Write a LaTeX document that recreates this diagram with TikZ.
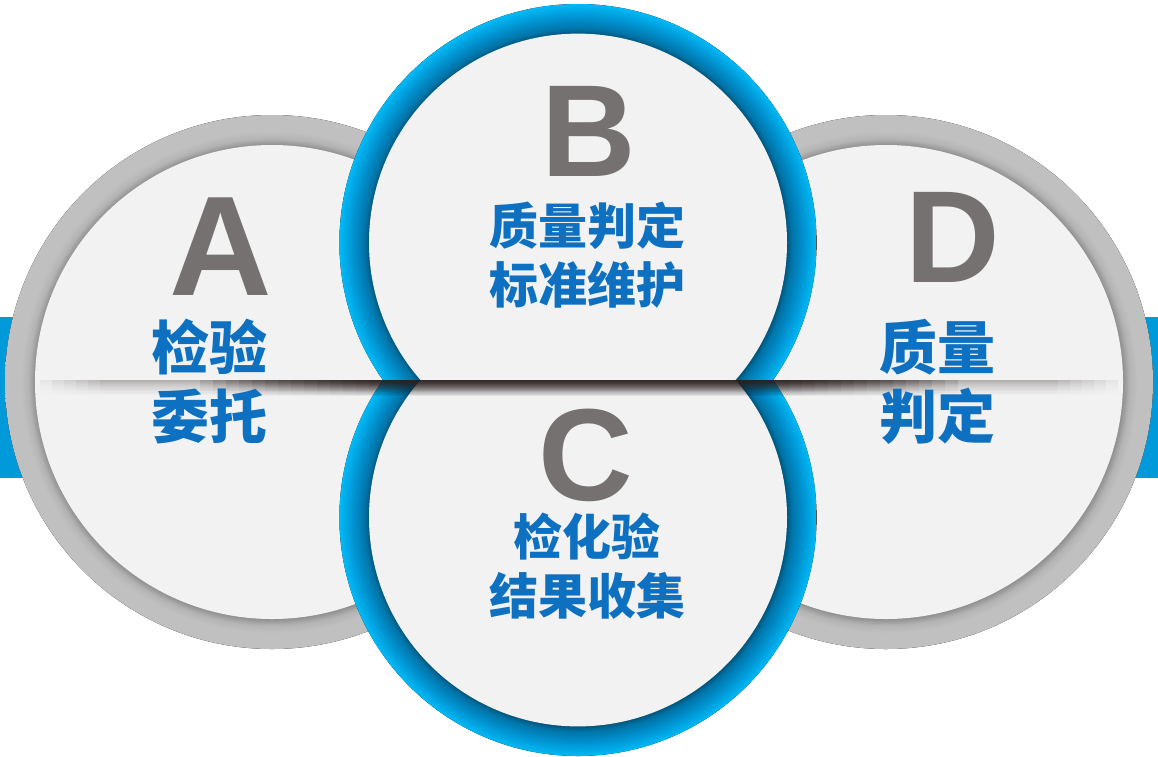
\documentclass[tikz,border=0pt]{standalone}
\usepackage{fontspec}
\setmainfont{Liberation Sans}
\newfontfamily\cjk{Noto Sans CJK SC}
\usepackage{xcolor}

\definecolor{ringgray}{HTML}{C0C0C0}
\definecolor{ringshade}{HTML}{8E8E8E}
\definecolor{discfill}{HTML}{F2F2F2}
\definecolor{barblue}{HTML}{0099D9}
\definecolor{ringcyan}{HTML}{00BAF6}
\definecolor{ringmid}{HTML}{00A6E4}
\definecolor{ringblue}{HTML}{0088C4}
\definecolor{ringdeep}{HTML}{00567E}
\definecolor{lettergray}{HTML}{757170}
\definecolor{textblue}{HTML}{0E70C0}
\definecolor{lineshade}{HTML}{2A1E1E}

% the path's box covers the inner 25bp of a radial shading
\pgfdeclareradialshading{grayring}{\pgfpoint{0bp}{0bp}}{color(0bp)=(ringshade); color(22.15bp)=(ringshade); color(22.8bp)=(ringgray!75!ringshade); color(23.5bp)=(ringgray); color(25bp)=(ringgray); color(50bp)=(ringgray)}
\pgfdeclareradialshading{bluering}{\pgfpoint{0bp}{0bp}}{color(0bp)=(ringdeep); color(21.9bp)=(ringdeep); color(22.4bp)=(ringblue!85!black); color(23.2bp)=(ringblue); color(24.3bp)=(ringmid); color(25bp)=(ringcyan); color(50bp)=(ringcyan)}

\begin{document}
\begin{tikzpicture}[x=1pt, y=-1pt,
    letterbox/.style={text=lettergray, inner sep=0pt, anchor=base, font=\bfseries\fontsize{131}{131}\selectfont},
    captionbox/.style={text=textblue, inner sep=0pt, align=center},
    bigcaption/.style={captionbox, font=\cjk\bfseries\fontsize{58}{69}\selectfont},
    smallcaption/.style={captionbox, font=\cjk\bfseries\fontsize{49}{58.5}\selectfont},
  ]
    \useasboundingbox (0,0) rectangle (1158,756);
    \fill[white] (0,0) rectangle (1158,756);

    % side bars
    \fill[barblue] (0,317) rectangle (130,478);
    \fill[barblue] (1028,317) rectangle (1158,478);

    % A
    \fill[shading=grayring] (272,382) circle (267);
    \fill[discfill] (272,382) circle (237);

    % D
    \fill[shading=grayring] (886,382) circle (267);
    \fill[discfill] (886,382) circle (237);

    % B (upper half)
    \begin{scope}
      \clip (0,0) rectangle (1158,380);
      \fill[shading=bluering] (578,242.6) circle (238.6);
      \fill[discfill] (578,242.6) circle (209);
    \end{scope}

    % C (lower half)
    \begin{scope}
      \clip (0,380) rectangle (1158,756);
      \fill[shading=bluering] (578,517.4) circle (238.6);
      \fill[discfill] (578,517.4) circle (209);
    \end{scope}

    % shadow line: light over A and D, dark in the middle
    \foreach \i in {0,...,5} {
      \pgfmathsetmacro\xa{40+12*\i}
      \foreach \k in {0,...,17} {
        \pgfmathsetmacro\op{0.06*(1-\k/18)^2}
        \fill[lineshade, fill opacity=\op] (\xa,380+\k) rectangle (1158-\xa,381+\k);
      }
    }
    \foreach \i in {0,...,13} {
      \pgfmathsetmacro\xa{200+13*\i}
      \foreach \k in {0,...,17} {
        \pgfmathsetmacro\op{0.15*(1-\k/18)^2}
        \fill[lineshade, fill opacity=\op] (\xa,380+\k) rectangle (1158-\xa,381+\k);
      }
    }

    % letters
    \node[letterbox, font=\bfseries\fontsize{142}{142}\selectfont] (letA) at (221,295) {A};
    \node[letterbox] (letB) at (589,176) {B};
    \node[letterbox] (letC) at (586,500) {C};
    \node[letterbox] (letD) at (953,282) {D};

    % captions
    \node[bigcaption] (capA) at (209,381.5) {检验\\委托};
    \node[smallcaption] (capB) at (587,255) {质量判定\\标准维护};
    \node[smallcaption] (capC) at (587,566) {检化验\\结果收集};
    \node[bigcaption] (capD) at (937,381.5) {质量\\判定};

  \end{tikzpicture}
\end{document}
